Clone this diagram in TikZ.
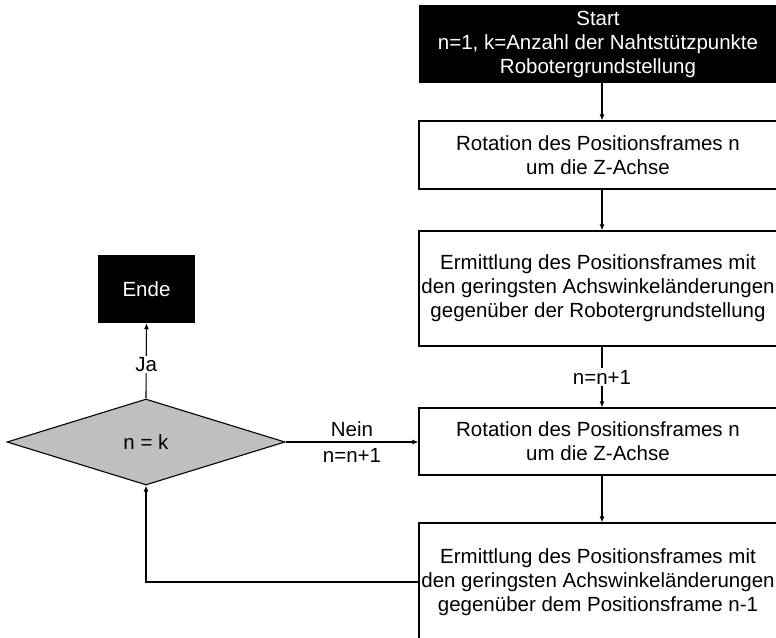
\documentclass[tikz,border=0pt]{standalone}
\usepackage{fontspec}
\setmainfont{Liberation Sans}
\usetikzlibrary{arrows.meta,shapes.geometric,calc}

\begin{document}
\begin{tikzpicture}[x=1pt,y=-1pt,
    every node/.style={font=\fontsize{20.5}{24}\selectfont},
    procbox/.style={draw=black,line width=1.1pt,fill=white,align=center,
      inner sep=0pt,minimum width=358pt},
    termbox/.style={fill=black,text=white,align=center,inner sep=0pt},
    decision/.style={diamond,draw=black,line width=1.1pt,fill=black!25,
      inner sep=0pt,minimum width=278pt,minimum height=86pt},
    flow/.style={draw=black,line width=1.1pt,-{Latex[length=6pt,width=5pt]}},
    cut/.style={fill=white,inner sep=1.5pt}
  ]
  \clip (0,0) rectangle (776,637);

  % main column
  \node[termbox,minimum width=358pt,minimum height=78pt] (start) at (598,44)
    {Start\\n=1, k=Anzahl der Nahtstützpunkte\\Robotergrundstellung};
  \node[procbox,minimum height=68pt] (rot1) at (598,155)
    {Rotation des Positionsframes n\\um die Z-Achse};
  \node[procbox,minimum height=115pt] (best1) at (598,288.5)
    {Ermittlung des Positionsframes mit\\den geringsten Achswinkeländerungen\\gegenüber der Robotergrundstellung};
  \node[procbox,minimum height=67pt] (rot2) at (598,441.5)
    {Rotation des Positionsframes n\\um die Z-Achse};
  \node[procbox,minimum height=118pt] (best2) at (598,582)
    {Ermittlung des Positionsframes mit\\den geringsten Achswinkeländerungen\\gegenüber dem Positionsframe n-1};

  % decision and end
  \node[decision] (check) at (146,442) {n = k};
  \node[termbox,minimum width=97pt,minimum height=68pt] (ende) at (146.5,289) {Ende};

  % connectors (the vertical flow runs slightly right of the box centres)
  \draw[flow] ([xshift=4pt]start.south) -- ([xshift=4pt]rot1.north);
  \draw[flow] ([xshift=4pt]rot1.south) -- ([xshift=4pt]best1.north);
  \draw[flow] ([xshift=4pt]best1.south) -- node[cut] (inc1) {n=n+1} ([xshift=4pt]rot2.north);
  \draw[flow] ([xshift=4pt]rot2.south) -- ([xshift=4pt]best2.north);
  \draw[flow] (best2.west) -| (check.south);
  \draw[flow] (check.north) -- node[cut,pos=0.45] (yes) {Ja} (ende.south);
  \draw[flow] (check.east) -- node[above=1pt] (no) {Nein}
    node[below=3pt] (inc2) {n=n+1} (rot2.west |- check.east);
\end{tikzpicture}
\end{document}
